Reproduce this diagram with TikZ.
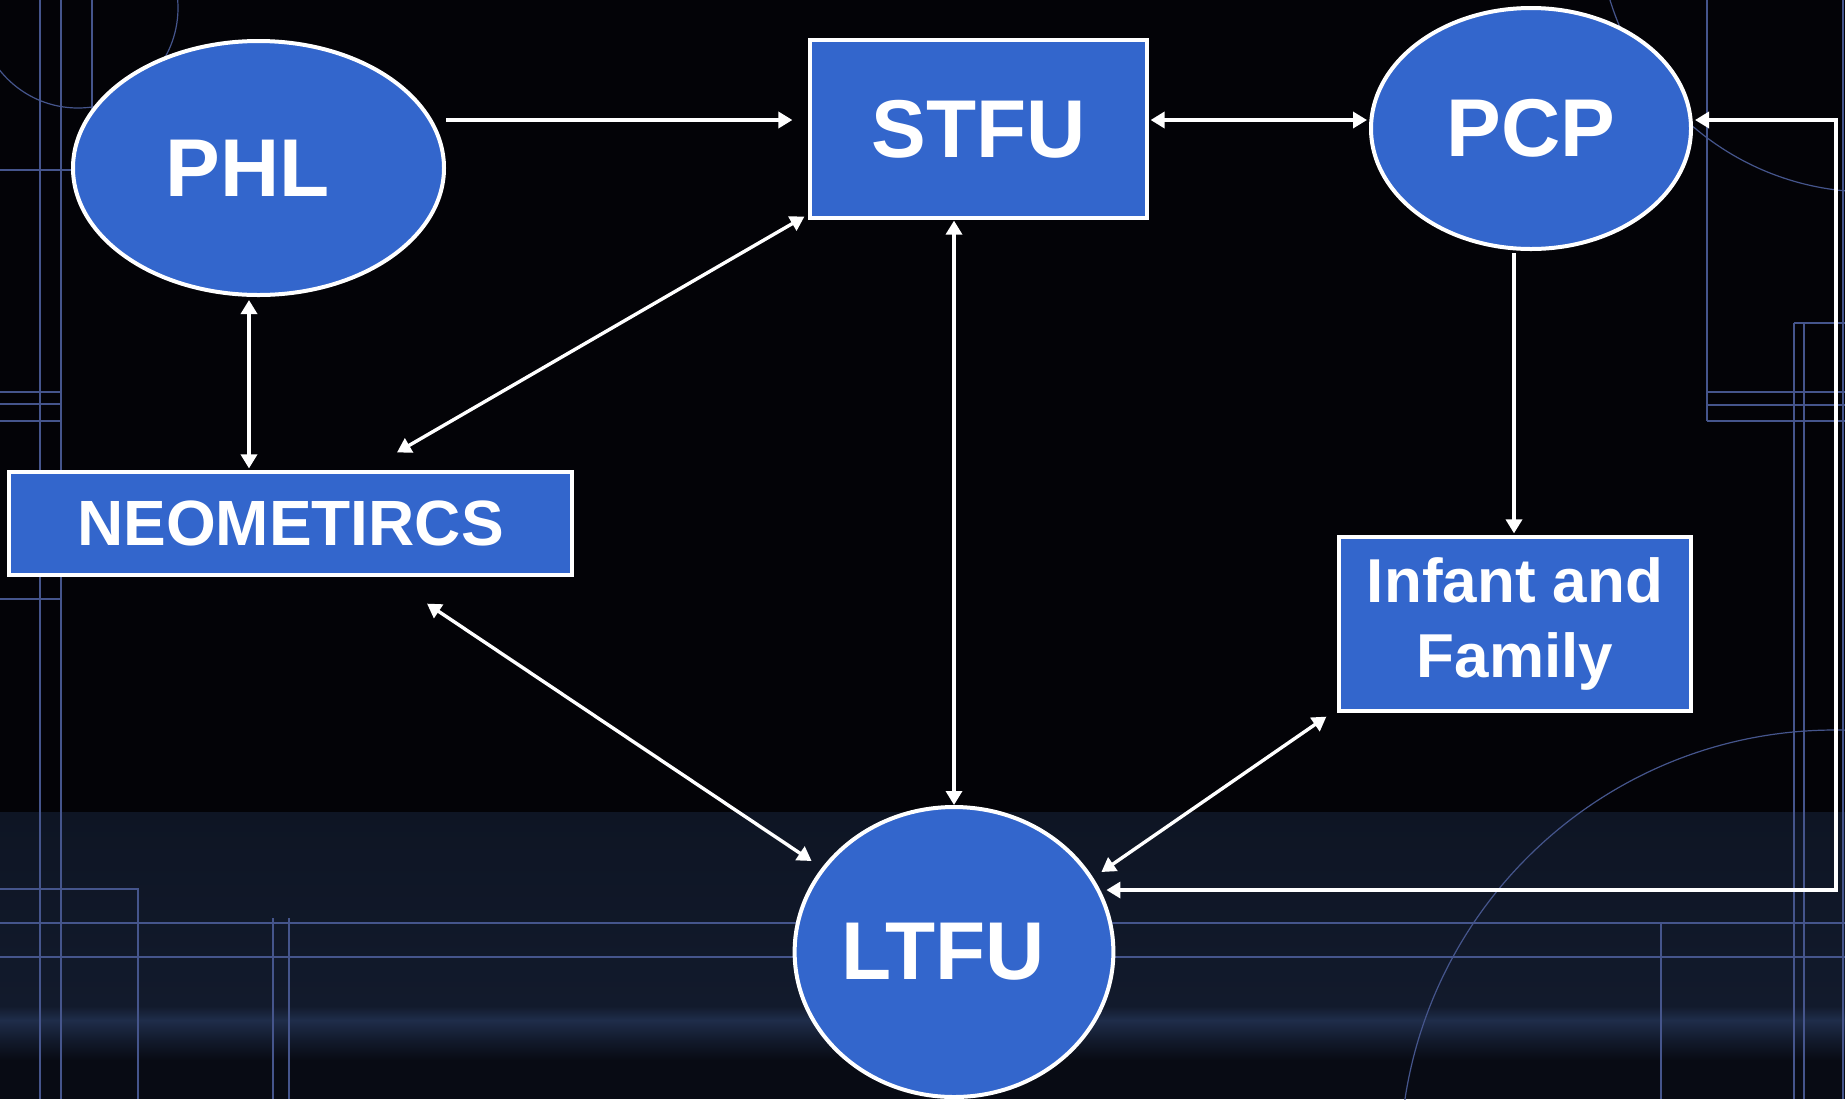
\documentclass[tikz,border=0pt]{standalone}
\usepackage{fontspec}
\setmainfont{Liberation Sans}
\usetikzlibrary{shapes.geometric,arrows.meta,calc}
\definecolor{nodeblue}{HTML}{3366CC}
\definecolor{bgtop}{HTML}{030307}
\definecolor{bandA}{HTML}{0E1524}
\definecolor{bandB}{HTML}{121A2C}
\definecolor{streak}{HTML}{1F2D4A}
\definecolor{bandlow}{HTML}{080B14}
\definecolor{gridline}{HTML}{45558C}
\begin{document}
\begin{tikzpicture}[x=0.5pt,y=-0.5pt,
  ell/.style={ellipse, draw=white, line width=2pt, fill=nodeblue, text=white,
    font=\bfseries\fontsize{41}{49}\selectfont, inner sep=0pt},
  box/.style={rectangle, draw=white, line width=1.6pt, fill=nodeblue, text=white,
    font=\bfseries\fontsize{41}{49}\selectfont, inner sep=0pt},
  arr/.style={white, line width=1.7pt, -{Triangle[length=7pt,width=8pt]}},
  darr/.style={white, line width=1.7pt, {Triangle[length=7pt,width=8pt]}-{Triangle[length=7pt,width=8pt]}},
  bgl/.style={gridline, line width=0.6pt}]
\useasboundingbox (0,0) rectangle (1845,1099);
\clip (0,0) rectangle (1845,1099);
% background
\fill[bgtop] (0,0) rectangle (1845,1099);
\shade[top color=bandA, bottom color=bandB] (0,812) rectangle (1845,1006);
\shade[top color=bandB, bottom color=streak] (0,1006) rectangle (1845,1020);
\shade[top color=streak, bottom color=bandB] (0,1020) rectangle (1845,1040);
\shade[top color=bandB, bottom color=bandlow] (0,1040) rectangle (1845,1060);
\fill[bandlow] (0,1060) rectangle (1845,1099);
% background lines, left
\draw[bgl] (40,0) -- (40,1099);
\draw[bgl] (61,0) -- (61,1099);
\draw[bgl] (92,0) -- (92,112);
\draw[bgl] (78,8) circle[radius=100];
\draw[bgl] (0,170) -- (120,170);
\draw[bgl] (0,392) -- (61,392);
\draw[bgl] (0,404) -- (61,404);
\draw[bgl] (0,421) -- (61,421);
\draw[bgl] (0,599) -- (61,599);
% background lines, right
\draw[bgl] (1707,0) -- (1707,421);
\draw[bgl] (1707,392) -- (1845,392);
\draw[bgl] (1707,405) -- (1845,405);
\draw[bgl] (1707,421) -- (1845,421);
\draw[bgl] (1794,323) -- (1794,1099);
\draw[bgl] (1804,323) -- (1804,1099);
\draw[bgl] (1794,323) -- (1845,323);
\draw[bgl] (1843,0) -- (1843,1099);
\draw[bgl] (1870,-80) circle[radius=272];
% background lines, bottom
\draw[bgl] (0,923) -- (1845,923);
\draw[bgl] (0,957) -- (1845,957);
\draw[bgl] (0,889) -- (138,889) -- (138,1099);
\draw[bgl] (273,918) -- (273,1099);
\draw[bgl] (289,918) -- (289,1099);
\draw[bgl] (1661,923) -- (1661,1099);
\draw[bgl] (1835,1165) circle[radius=435];
% nodes
\node[ell, minimum width=185.5pt, minimum height=127pt] (phl) at (258.5,168) {PHL\hspace*{11pt}};
\node[box, minimum width=168.5pt, minimum height=89pt] (stfu) at (978.5,129) {STFU};
\node[ell, minimum width=160pt, minimum height=120.5pt] (pcp) at (1531,128.5) {PCP};
\node[box, minimum width=281.5pt, minimum height=51.5pt,
  font=\bfseries\fontsize{32}{38}\selectfont] (neo) at (290.5,523.5) {NEOMETIRCS};
\node[box, minimum width=176pt, minimum height=87pt, align=center,
  font=\bfseries\fontsize{31}{37.6}\selectfont] (inf) at (1515,624) {Infant and\\Family};
\node[ell, minimum width=159pt, minimum height=145pt] (ltfu) at (954,952) {LTFU\hspace*{11pt}};
% connectors
\draw[arr] ($(phl.east)+(0,-48)$) -- ($(stfu.west)+(-16,-9)$);
\draw[darr] ($(stfu.east)+(2,-9)$) -- ($(pcp.west)+(-2,-8.5)$);
\draw[darr] ($(phl.south)+(-9.5,3)$) -- ($(neo.north)+(-41.5,-2)$);
\draw[darr] ($(stfu.south west)+(-4,-3)$) -- ($(neo.north)+(106.5,-18)$);
\draw[darr] ($(stfu.south -| ltfu.north)+(0,1)$) -- (ltfu.north);
\draw[arr] ($(pcp.south)+(-17,2)$) -- ($(inf.north)+(-1,-2)$);
\draw[darr] ($(neo.south)+(136.5,27)$) -- ($(ltfu.west)+(19,-91)$);
\draw[darr] ($(inf.south west)+(-11,4)$) -- ($(ltfu.east)+(-14,-80)$);
\draw[darr] ($(ltfu.east)+(-9,-62)$) -| ($(pcp.east)+(143,-8.5)$) -- ($(pcp.east)+(2,-8.5)$);
\end{tikzpicture}
\end{document}
